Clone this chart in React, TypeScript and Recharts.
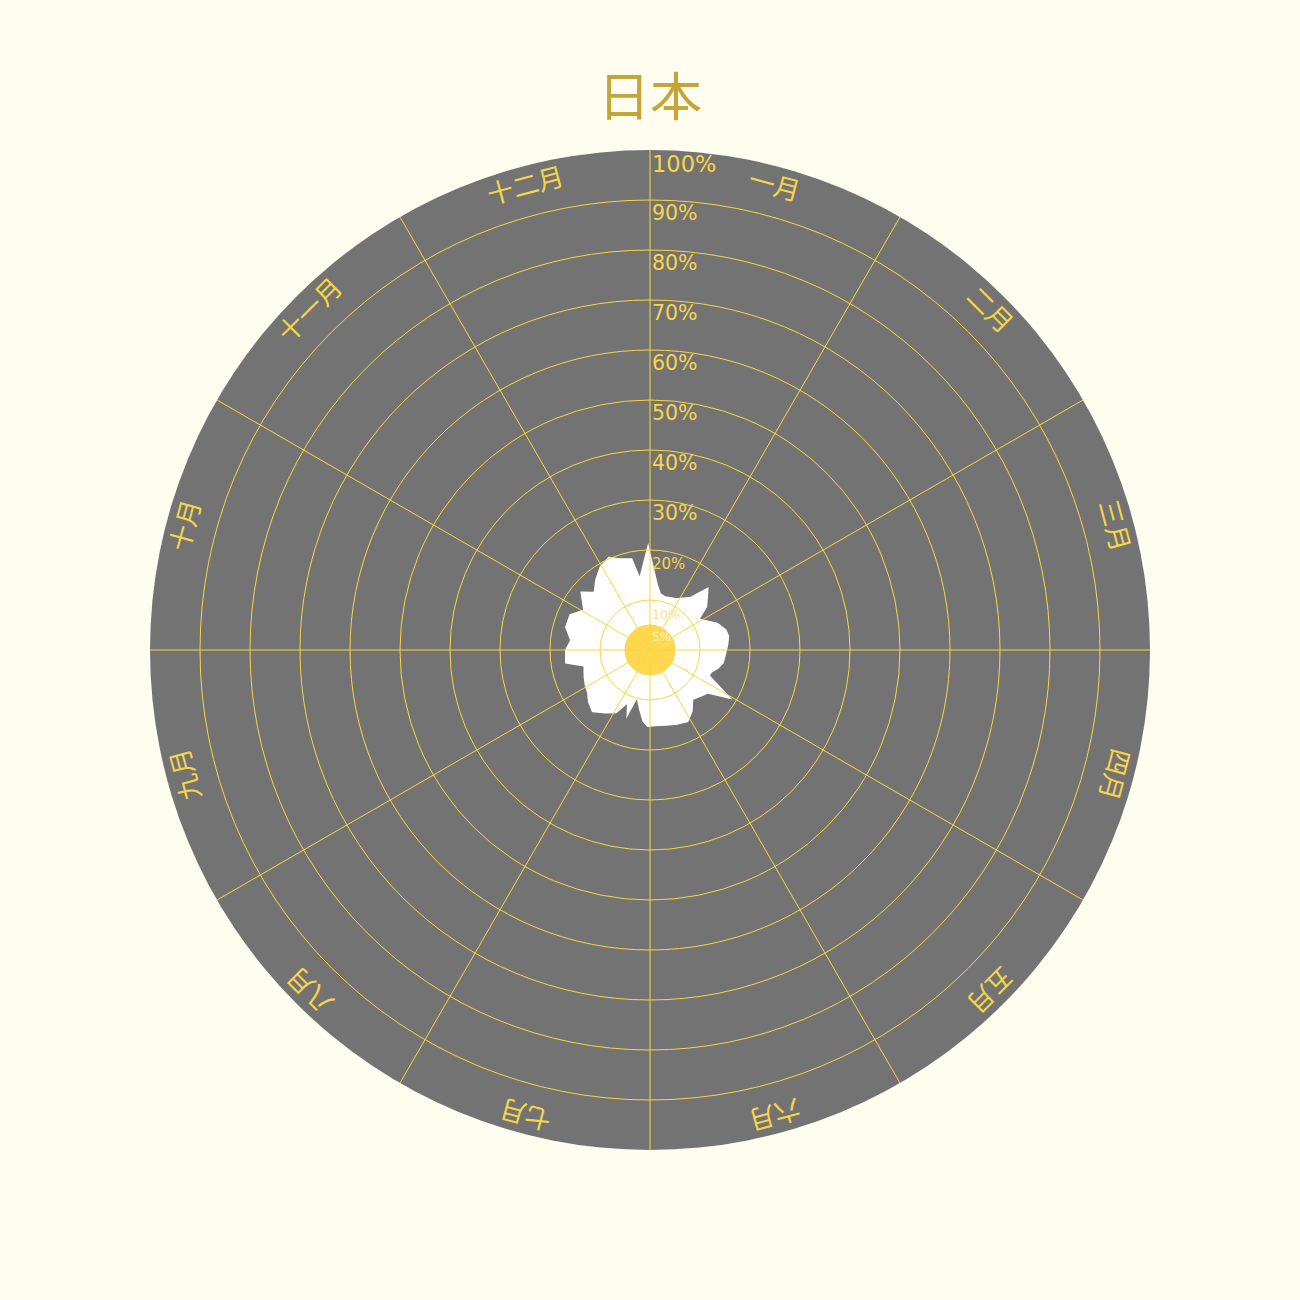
import { PolarAngleAxis, PolarGrid, PolarRadiusAxis, Radar, RadarChart } from "recharts";

const monthNames = ["一月", "二月", "三月", "四月", "五月", "六月", "七月", "八月", "九月", "十月", "十一月", "十二月"];
const monthStarts = [0, 30, 60, 90, 120, 150, 180, 210, 240, 270, 300, 330];
const monthMids = [15, 45, 75, 105, 135, 165, 195, 225, 255, 285, 315, 345];
const radiusTicks = [5, 10, 20, 30, 40, 50, 60, 70, 80, 90, 100];
const gridTicks = [5, 10, 20, 30, 40, 50, 60, 70, 80, 90];

// angle in degrees from January 1st (clockwise from top), share in %
const angles = [
  7, 11, 16, 22, 27, 32, 37, 43, 48, 53, 58, 63, 68, 75, 80, 86, 92, 100, 105, 110,
  113, 117, 121, 127, 133, 139, 145, 152, 160, 168, 176, 182, 186, 190, 195, 199, 203, 208, 215, 223,
  230, 236, 241, 247, 252, 256, 261, 270, 277, 285, 294, 301, 310, 316, 322, 329, 336, 342, 349, 352,
  359,
];
const japan = [
  13.1, 11.5, 11.2, 11.4, 11.6, 12.4, 13.3, 17.2, 15.6, 14.3, 11.8, 13.0, 14.6, 15.8, 16.1, 15.7, 15.3, 15.0, 14.2, 13.2,
  13.0, 15.5, 19.2, 14.5, 13.8, 13.2, 14.9, 16.3, 15.9, 15.5, 15.3, 15.4, 14.4, 12.3, 10.2, 14.5, 11.8, 14.3, 15.5, 17.0,
  16.2, 15.2, 14.9, 14.4, 14.0, 13.7, 17.2, 17.0, 16.1, 17.6, 17.6, 15.6, 18.2, 16.2, 17.8, 19.5, 20.4, 19.3, 18.7, 14.9,
  21.4,
];

const data = angles.map((deg, i) => ({ deg, japan: japan[i] }));

const YELLOW = "#f7d54a";
const SIZE = 1300;
const CX = 650;
const CY = 650;
const R = 500;

function MonthTick(props: any) {
  const { x, y, payload } = props;
  const name = monthNames[monthMids.indexOf(payload.value)];
  const rot = 90 - payload.coordinate;
  return (
    <text
      x={x}
      y={y}
      transform={`rotate(${rot} ${x} ${y})`}
      textAnchor="middle"
      dominantBaseline="central"
      fill={YELLOW}
      fontSize={26}
      fontFamily="'Noto Sans CJK JP', sans-serif"
    >
      {name}
    </text>
  );
}

function radiusLabelStyle(v: number) {
  if (v === 100) return { size: 22.5, dy: 22, fill: YELLOW };
  if (v === 20) return { size: 15, dy: 19, fill: YELLOW };
  if (v === 10) return { size: 12.6, dy: 19, fill: "#f8e08a" };
  if (v === 5) return { size: 12, dy: 16, fill: "#fff4c4" };
  return { size: 20.5, dy: 20, fill: YELLOW };
}

function RadiusTick(props: any) {
  const { x, y, payload } = props;
  const s = radiusLabelStyle(payload.value);
  return (
    <text x={x + 2} y={y + s.dy} textAnchor="start" fill={s.fill} fontSize={s.size} fontFamily="'DejaVu Sans', sans-serif">
      {`${payload.value}%`}
    </text>
  );
}

const chartProps = {
  width: SIZE,
  height: SIZE,
  cx: CX,
  cy: CY,
  innerRadius: 0,
  outerRadius: R,
  startAngle: 90,
  endAngle: -270,
  margin: { top: 0, right: 0, bottom: 0, left: 0 },
  data,
};

const layer: React.CSSProperties = { position: "absolute", left: 0, top: 0 };

export default function App() {
  return (
    <div style={{ position: "absolute", left: 0, top: 0, width: SIZE, height: SIZE, background: "#fffdf0" }}>
      <svg width={SIZE} height={SIZE} style={layer}>
        <text
          x={CX}
          y={93}
          textAnchor="middle"
          dominantBaseline="central"
          fill="#c4a535"
          fontSize={52}
          fontFamily="'Noto Sans CJK JP', sans-serif"
        >
          日本
        </text>
        <circle cx={CX} cy={CY} r={R} fill="#737373" />
      </svg>

      {/* white share area */}
      <div style={layer}>
        <RadarChart {...chartProps}>
          <PolarAngleAxis dataKey="deg" type="number" domain={[0, 360]} ticks={monthStarts} tick={false} axisLine={false} tickLine={false} />
          <PolarRadiusAxis angle={90} type="number" domain={[0, 100]} tick={false} axisLine={false} />
          <Radar dataKey="japan" fill="#ffffff" fillOpacity={1} stroke="none" isAnimationActive={false} />
        </RadarChart>
      </div>

      <svg width={SIZE} height={SIZE} style={layer}>
        <circle cx={CX} cy={CY} r={25} fill="#ffd84f" />
      </svg>

      {/* grid over the area */}
      <div style={layer}>
        <RadarChart {...chartProps}>
          <PolarGrid gridType="circle" stroke="#fad641" strokeWidth={1} />
          <PolarAngleAxis dataKey="deg" type="number" domain={[0, 360]} ticks={monthStarts} tick={false} axisLine={false} tickLine={false} />
          <PolarRadiusAxis angle={90} type="number" domain={[0, 100]} ticks={gridTicks} tick={false} axisLine={false} tickLine={false} />
          <Radar dataKey="japan" fill="none" fillOpacity={0} stroke="none" isAnimationActive={false} />
        </RadarChart>
      </div>

      {/* month and percentage labels */}
      <div style={layer}>
        <RadarChart {...chartProps}>
          <PolarAngleAxis
            dataKey="deg"
            type="number"
            domain={[0, 360]}
            ticks={monthMids}
            tick={MonthTick}
            tickSize={-17}
            axisLine={false}
            tickLine={false}
          />
          <PolarRadiusAxis angle={90} type="number" domain={[0, 100]} ticks={radiusTicks} tick={RadiusTick} axisLine={false} tickLine={false} />
          <Radar dataKey="japan" fill="none" fillOpacity={0} stroke="none" isAnimationActive={false} />
        </RadarChart>
      </div>
    </div>
  );
}
